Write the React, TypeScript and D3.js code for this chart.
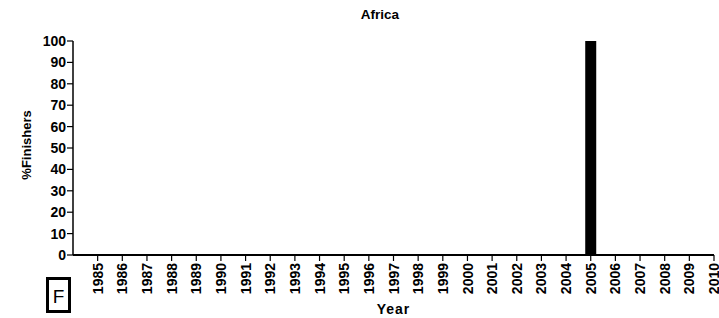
import React from 'react';
import * as d3 from 'd3';

const years = d3.range(1985, 2011);
const finishers = [0, 0, 0, 0, 0, 0, 0, 0, 0, 0, 0, 0, 0, 0, 0, 0, 0, 0, 0, 0, 100, 0, 0, 0, 0, 0];
const yTicks = [0, 10, 20, 30, 40, 50, 60, 70, 80, 90, 100];

const W = 719;
const H = 318;
const left = 73;
const right = 714;
const top = 41;
const bottom = 255;
const font = '"Liberation Sans", Arial, Helvetica, sans-serif';

export default function App() {
  const x = d3.scaleLinear().domain([1984, 2010]).range([left, right]);
  const y = d3.scaleLinear().domain([0, 100]).range([bottom, top]);
  const barW = 11;

  return (
    <svg width={W} height={H} style={{ position: 'absolute', left: 0, top: 0 }} fontFamily={font}>
      <text x={380} y={19} textAnchor="middle" fontSize={13.5} fontWeight="bold">Africa</text>

      {/* bars */}
      {years.map((yr, i) => (
        finishers[i] > 0 ? (
          <rect key={yr} x={x(yr) - barW / 2} y={y(finishers[i])} width={barW}
            height={bottom - y(finishers[i])} fill="#000" />
        ) : null
      ))}

      {/* y axis */}
      <line x1={left} x2={left} y1={top} y2={bottom} stroke="#000" strokeWidth={1.5} />
      {yTicks.map(t => (
        <g key={t} transform={`translate(0,${y(t)})`}>
          <line x1={left - 6} x2={left} stroke="#000" strokeWidth={1.2} />
          <text x={left - 7} dy="0.36em" textAnchor="end" fontSize={14} fontWeight="bold">{t}</text>
        </g>
      ))}
      <text transform={`translate(31,${(top + bottom) / 2 - 3}) rotate(-90)`} textAnchor="middle"
        fontSize={13} fontWeight="bold">%Finishers</text>

      {/* x axis */}
      <line x1={left} x2={right} y1={bottom} y2={bottom} stroke="#000" strokeWidth={2} />
      {years.map(yr => (
        <g key={yr} transform={`translate(${x(yr)},0)`}>
          <line y1={bottom} y2={bottom + 6} stroke="#000" strokeWidth={1.2} />
          <text transform={`translate(0,${bottom + 8}) rotate(-90)`} dy="0.36em" textAnchor="end"
            fontSize={14} fontWeight="bold">{yr}</text>
        </g>
      ))}
      <text x={(left + right) / 2} y={314} textAnchor="middle" fontSize={14} fontWeight="bold"
        letterSpacing={1}>Year</text>

      {/* panel tag */}
      <rect x={47.5} y={278.5} width={22} height={33} fill="#fff" stroke="#000" strokeWidth={3} />
      <text x={58.5} y={302.5} textAnchor="middle" fontSize={19}>F</text>
    </svg>
  );
}
